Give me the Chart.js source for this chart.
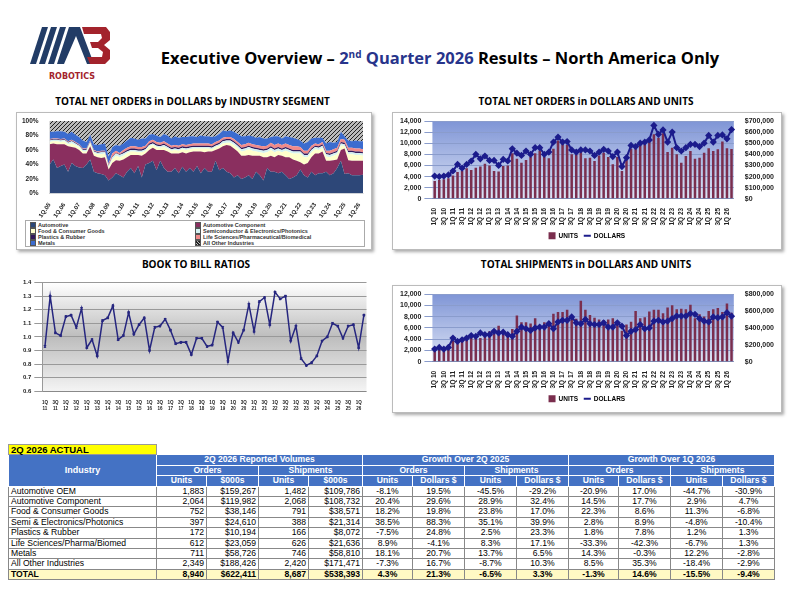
<!DOCTYPE html>
<html>
<head>
<meta charset="utf-8">
<script src="https://cdn.jsdelivr.net/npm/chart.js@4.4.1/dist/chart.umd.min.js"></script>
<style>
  body { margin: 0; width: 792px; height: 612px; position: relative; background: #fff; font-family: 'Liberation Sans', Arial, sans-serif; overflow: hidden; }
  .abs { position: absolute; }
  .title { font-family: 'Open Sans', 'DejaVu Sans', sans-serif; font-weight: bold; font-size: 10px; text-align: center; color: #000; }
  .box { border: 1px solid #bbb; box-shadow: 2px 2px 3px #aaa; background: #fff; }
  #legArea { font-size: 5.5px; line-height: 6px; font-weight: bold; color: #333; display: grid; grid-template-columns: 1fr 1fr; }
  #legArea span i { display: inline-block; width: 4px; height: 4px; border: 1px solid #555; margin-right: 2px; vertical-align: -1px; }
  table { border-collapse: collapse; font-size: 8.6px; }
  td { border: 1px solid #888; padding: 0 2px; height: 9.4px; line-height: 9.4px; white-space: nowrap; }
  td.n { text-align: right; }
  td.p { text-align: center; }
  .h td { background: #4472c4; color: #fff; font-weight: bold; text-align: center; border-color: #fff; }
  .tot td { background: #fff9c4; font-weight: bold; }
</style>
</head>
<body>
<svg class="abs" style="left:30px;top:22px" width="84" height="62" viewBox="0 0 84 62">
  <polygon points="12,5 18,5 6,42 0,42" fill="#223c66"/>
  <polygon points="21,5 27,5 15,42 9,42" fill="#223c66"/>
  <polygon points="30,5 36,5 24,42 18,42" fill="#223c66"/>
  <polygon points="39,5 50,5 64,42 57,42 46,14 34,42 27,42" fill="#223c66"/>
  <path d="M52,5 H76 L80,10 L80,18 L74,23 L80,28 L80,37 L75,42 H60 L57,35 H72 L73,30 L68,26 H62 L60,20 H68 L72,16 L71,12 H54 Z" fill="#a3232c"/>
  <text x="42" y="57" text-anchor="middle" font-family="DejaVu Sans" font-weight="bold" font-size="8" fill="#a3232c">ROBOTICS</text>
</svg>
<div class="abs" style="left:150px;top:46px;width:580px;text-align:center;font-family:'Open Sans',sans-serif;font-weight:bold;font-size:16.5px;">
  Executive Overview – <span style="color:#27348b">2<sup style="font-size:10px">nd</sup> Quarter 2026</span> Results – North America Only
</div>

<div class="abs title" style="left:15px;top:94px;width:355px">TOTAL NET ORDERS in DOLLARS by INDUSTRY SEGMENT</div>
<div class="abs title" style="left:392px;top:94px;width:388px">TOTAL NET ORDERS in DOLLARS AND UNITS</div>
<div class="abs title" style="left:20px;top:257px;width:352px">BOOK TO BILL RATIOS</div>
<div class="abs title" style="left:392px;top:257px;width:388px">TOTAL SHIPMENTS in DOLLARS AND UNITS</div>

<div class="abs box" style="left:16px;top:112px;width:354px;height:136px">
  <canvas id="cArea" width="354" height="106"></canvas>
  <div id="legArea" class="abs" style="left:8px;top:107px;width:340px;height:27px;border:1px solid #aaa;padding:1px 4px;box-sizing:border-box"></div>
</div>
<div class="abs box" style="left:392px;top:112px;width:388px;height:136px"><canvas id="cOrders" width="388" height="136"></canvas></div>
<div class="abs" style="left:20px;top:276px;width:352px;height:136px"><canvas id="cBtb" width="352" height="136"></canvas></div>
<div class="abs box" style="left:392px;top:285px;width:388px;height:126px"><canvas id="cShip" width="388" height="126"></canvas></div>

<div class="abs" style="left:8px;top:444px;">
<table id="tbl"></table>
</div>

<script>
'use strict';

// ─── Data ────────────────────────────────────────────────────────────────────

const QTRS_10 = [];
for (let y = 10; y <= 26; y++) for (let q = 1; q <= 4; q++) if (!(y === 26 && q > 2)) QTRS_10.push(q + 'Q ' + y);

const ORDER_UNITS = [3200,3400,3500,3700, 4200,4800,5000,5500, 5200,5600,5800,6300, 6000,5000,4900,5900,
  6000,8200,7200,6500, 7000,7500,8200,8700, 7500,7300,9000,10500, 10500,9700,8000,8000,
  8500,7300,7400,6800, 7800,8300,7500,6200, 7500,5000,7000,9000, 9500,9800,10000,10500,
  11600,11000,11800,8400, 9200,8000,6500,7700, 8600,7200,7400,8300, 9100,8600,8900,10300, 9100,8940];
const ORDER_DOLLARS = [205000,200000,205000,215000, 250000,310000,275000,310000, 340000,400000,360000,385000, 345000,345000,300000,355000,
  340000,450000,410000,390000, 430000,400000,460000,460000, 400000,420000,510000,555000, 510000,515000,440000,420000,
  440000,440000,430000,390000, 420000,445000,430000,380000, 420000,290000,370000,480000, 470000,500000,510000,530000,
  660000,580000,620000,510000, 600000,460000,430000,460000, 490000,490000,470000,500000, 570000,510000,570000,575000, 540000,622411];

const SHIP_UNITS = [2200,2500,2400,2500, 3700,3300,3800,4200, 4600,4500,4200,4700, 5400,5000,6400,5000,
  4500,5800,8200,7000, 7000,6800,7700,6500, 7000,6500,8500,8800, 8800,9200,8000,7600,
  10800,9200,8300,7800, 7500,7400,7500,7700, 7100,5500,6600,7100, 9000,7700,7900,8900,
  9200,9200,8600,9600, 10000,9300,9400,9300, 10100,7700,8400,8000, 9000,9300,9500,8800, 10300,8687];
const SHIP_DOLLARS = [150000,170000,150000,170000, 280000,240000,260000,280000, 310000,300000,340000,320000, 320000,360000,340000,350000,
  320000,300000,360000,410000, 390000,370000,400000,410000, 410000,450000,390000,470000, 490000,490000,530000,460000,
  450000,500000,450000,440000, 440000,460000,410000,410000, 460000,420000,310000,360000, 380000,440000,390000,400000,
  480000,490000,470000,480000, 510000,540000,540000,540000, 570000,560000,510000,480000, 470000,530000,520000,530000, 580000,538393];

const BTB_LABELS = QTRS_10.slice(4);
const BTB = [0.93,1.30,1.03,1.01, 1.15,1.16,1.07,1.21, 0.92,0.98,0.86,1.12, 1.14,1.23,0.98,1.01,
  1.18,1.02,1.09,1.14, 0.90,1.07,1.08,1.13, 1.05,0.95,0.96,0.96, 0.87,0.99,0.99,0.93,
  0.94,1.11,1.07,0.82, 1.03,0.96,1.05,1.24, 1.04,1.26,1.29,1.09, 1.33,1.28,1.30,0.97,
  1.08,0.84,0.79,0.81, 0.86,0.97,1.00,1.10, 1.08,0.99,1.08,1.09, 0.92,1.16];

const QTRS_05 = [];
for (let y = 5; y <= 26; y++) for (let q = 1; q <= 4; q++) if (!(y === 26 && q > 2)) QTRS_05.push(q + 'Q ' + String(y).padStart(2, '0'));

const SEG_NAMES = ['Automotive', 'Automotive Component', 'Food & Consumer Goods', 'Semiconductor & Electronics/Photonics',
  'Plastics & Rubber', 'Life Sciences/Pharmaceutical/Biomedical', 'Metals', 'All Other Industries'];
const SEG_AUTO = [40,47,35,38, 40,30,42,38, 36,35,40,47, 30,28,27,25, 18,22,28,25, 22,30,35,28, 38,22,40,42,
  45,32,45,35, 30,30,35,28, 37,30,35,30, 38,28,35,30, 30,45,32,35, 30,28,22,25, 20,22,25,20,
  30,25,18,35, 30,30,28,30, 25,20,22,25, 33,25,22,30, 25,28,28,30, 25,28,35,45, 27,28,25,25, 25,26];
const SEG_COMP = [28,22,33,30, 28,35,22,25, 24,20,15,18, 22,22,22,25, 15,20,18,20, 25,20,18,25, 15,30,15,18,
  18,28,15,25, 28,25,20,27, 20,25,22,28, 20,30,22,28, 28,15,30,30, 37,38,40,33, 32,30,28,32,
  22,27,32,15, 22,20,25,22, 25,30,25,20, 10,15,20,20, 30,27,30,15, 20,18,12,15, 35,18,20,20, 20,19];
const SEG_FOOD = [3,3,4,3, 4,3,5,4, 4,3,3,4, 4,4,5,5, 3,5,6,5, 5,6,5,5, 4,5,4,5, 4,4,3,4, 4,4,5,4,
  4,5,4,4, 4,4,5,4, 3,4,4,4, 3,4,5,5, 6,7,8,7, 6,5,6,7, 8,7,6,5, 9,7,8,10, 12,10,8,7,
  6,5,5,6, 5,6,7,6, 4,8,9,8, 8,7];
const SEG_SEMI = [2,2,2,2, 2,2,3,2, 2,2,2,2, 2,2,3,2, 2,3,3,3, 3,2,2,2, 2,2,2,2, 2,2,2,3, 2,2,2,2,
  2,2,2,2, 2,2,2,2, 2,2,2,3, 3,3,3,3, 3,3,3,3, 3,3,3,3, 3,3,3,3, 3,3,3,3, 3,3,3,3,
  3,3,3,3, 3,3,3,3, 2,3,3,3, 3,3];
const SEG_PLAS = [1,1,1,1, 1,1,1,1, 1,1,1,1, 1,1,1,1, 1,1,1,1, 2,2,2,2, 2,2,2,2, 2,2,2,2, 2,2,2,2,
  2,2,2,2, 2,2,2,2, 2,2,2,2, 2,2,2,2, 2,2,2,2, 2,2,2,2, 2,2,2,2, 2,2,2,2, 2,2,2,2,
  2,2,2,2, 2,2,2,2, 2,2,2,2, 2,2];
const SEG_LIFE = [1,1,1,1, 1,1,1,1, 1,1,1,1, 1,1,1,1, 2,4,3,2, 3,3,3,3, 3,3,3,3, 3,3,3,3, 3,3,3,3,
  3,3,3,3, 3,3,3,3, 3,3,3,3, 3,3,3,3, 4,4,4,4, 4,4,4,4, 5,5,5,5, 5,5,5,5, 4,4,4,4,
  3,3,3,3, 4,4,4,4, 4,4,4,4, 4,4];
const SEG_METAL = [10,9,10,11, 9,10,11,10, 10,11,9,8, 8,9,9,10, 10,9,8,10, 9,10,12,11, 10,12,10,9,
  8,9,8,10, 11,10,12,11, 10,11,11,10, 9,11,10,10, 10,8,9,10, 8,9,10,11, 12,11,10,11,
  10,12,11,10, 8,12,10,9, 10,11,12,10, 9,10,12,10, 8,9,6,10, 12,9,8,10, 5,10,9,11, 10,11];
const SEG_OTHER = SEG_AUTO.map((_, i) => 100 - SEG_AUTO[i] - SEG_COMP[i] - SEG_FOOD[i] - SEG_SEMI[i]
  - SEG_PLAS[i] - SEG_LIFE[i] - SEG_METAL[i]);

const TBL_INDUSTRIES = ['Automotive OEM', 'Automotive Component', 'Food & Consumer Goods', 'Semi & Electronics/Photonics',
  'Plastics & Rubber', 'Life Sciences/Pharma/Biomed', 'Metals', 'All Other Industries', 'TOTAL'];
const TBL_VOLUMES = [
  ['1,883','$159,267','1,482','$109,786'], ['2,064','$119,982','2,068','$108,732'], ['752','$38,146','791','$38,571'],
  ['397','$24,610','388','$21,314'], ['172','$10,194','166','$8,072'], ['612','$23,059','626','$21,636'],
  ['711','$58,726','746','$58,810'], ['2,349','$188,426','2,420','$171,471'], ['8,940','$622,411','8,687','$538,393']];
const TBL_YOY = [
  ['-8.1%','19.5%','-45.5%','-29.2%'], ['20.4%','29.6%','28.9%','32.4%'], ['18.2%','19.8%','23.8%','17.0%'],
  ['38.5%','88.3%','35.1%','39.9%'], ['-7.5%','24.8%','2.5%','23.3%'], ['8.9%','-4.1%','8.3%','17.1%'],
  ['18.1%','20.7%','13.7%','6.5%'], ['-7.3%','16.7%','-8.7%','10.3%'], ['4.3%','21.3%','-6.5%','3.3%']];
const TBL_QOQ = [
  ['-20.9%','17.0%','-44.7%','-30.9%'], ['14.5%','17.7%','2.9%','4.7%'], ['22.3%','8.6%','11.3%','-6.8%'],
  ['2.8%','8.9%','-4.8%','-10.4%'], ['1.8%','7.8%','1.2%','1.3%'], ['-33.3%','-42.3%','-6.7%','1.3%'],
  ['14.3%','-0.3%','12.2%','-2.8%'], ['8.5%','35.3%','-18.4%','-2.9%'], ['-1.3%','14.6%','-15.5%','-9.4%']];

// ─── Shared helpers ──────────────────────────────────────────────────────────

Chart.defaults.font.family = "'Liberation Sans', Arial, sans-serif";
Chart.defaults.color = '#222';

const MAROON = '#7a2e4e';
const NAVY   = '#1c1c8c';

// paints a vertical gradient behind the plot area
function bgPlugin(top, bottom, mid) {
  return {
    id: 'bg',
    beforeDraw(chart) {
      const { ctx, chartArea: a } = chart;
      const g = ctx.createLinearGradient(0, a.top, 0, a.bottom);
      g.addColorStop(0, top);
      if (mid) g.addColorStop(0.5, mid);
      g.addColorStop(1, bottom);
      ctx.save();
      ctx.fillStyle = g;
      ctx.fillRect(a.left, a.top, a.right - a.left, a.bottom - a.top);
      ctx.restore();
    },
  };
}

function hatch() {
  const c = document.createElement('canvas');
  c.width = 4; c.height = 4;
  const x = c.getContext('2d');
  x.fillStyle = '#bbb'; x.fillRect(0, 0, 4, 4);
  x.strokeStyle = '#222'; x.lineWidth = 1;
  x.beginPath(); x.moveTo(0, 4); x.lineTo(4, 0); x.stroke();
  return x.createPattern(c, 'repeat');
}

const qtrTicks = {
  autoSkip: false, maxRotation: 90, minRotation: 90,
  font: { size: 6.5, weight: 'bold' }, padding: 1,
};

function comboChart(id, units, dollars, yMax, yStep, y2Max, y2Step) {
  return new Chart(document.getElementById(id), {
    data: {
      labels: QTRS_10,
      datasets: [
        { type: 'line', label: 'DOLLARS', data: dollars, yAxisID: 'y2', borderColor: NAVY, backgroundColor: NAVY,
          borderWidth: 2, pointStyle: 'rectRot', pointRadius: 2.2, tension: 0, order: 0 },
        { type: 'bar', label: 'UNITS', data: units, yAxisID: 'y', backgroundColor: MAROON,
          barPercentage: 0.55, categoryPercentage: 1, order: 1 },
      ],
    },
    options: {
      responsive: false, animation: false,
      layout: { padding: { left: 4, right: 4, top: 8, bottom: 0 } },
      plugins: {
        legend: {
          position: 'bottom', reverse: true,
          labels: { usePointStyle: true, font: { size: 6.5, weight: 'bold' }, boxHeight: 5, padding: 6,
            generateLabels: ch => ch.data.datasets.map((d, i) => ({
              text: d.label, datasetIndex: i, fillStyle: i ? MAROON : NAVY, strokeStyle: i ? MAROON : NAVY,
              pointStyle: i ? 'rect' : 'line', lineWidth: 2 })) },
        },
        tooltip: { enabled: false },
      },
      scales: {
        x: { grid: { display: false }, ticks: { ...qtrTicks, callback(v, i) { return i % 2 ? '' : QTRS_10[i]; } } },
        y: { min: 0, max: yMax, ticks: { autoSkip: false, stepSize: yStep, font: { size: 7, weight: 'bold' },
             callback: v => v.toLocaleString('en-US') }, grid: { color: '#8a9ccc' }, border: { display: false } },
        y2: { position: 'right', min: 0, max: y2Max, ticks: { autoSkip: false, stepSize: y2Step, font: { size: 7, weight: 'bold' },
             callback: v => '$' + v.toLocaleString('en-US') }, grid: { display: false }, border: { display: false } },
      },
    },
    plugins: [bgPlugin('#7f95d6', '#dde4f5')],
  });
}

// ─── Charts ──────────────────────────────────────────────────────────────────

const SEG_DATA   = [SEG_AUTO, SEG_COMP, SEG_FOOD, SEG_SEMI, SEG_PLAS, SEG_LIFE, SEG_METAL, SEG_OTHER];
const SEG_COLORS = ['#2d4778', '#8a2f5f', '#ffffcc', '#d4f2f2', '#33195a', '#f08a8a', '#3c6ccf', hatch()];

new Chart(document.getElementById('cArea'), {
  type: 'line',
  data: {
    labels: QTRS_05,
    datasets: SEG_DATA.map((d, i) => ({
      label: SEG_NAMES[i], data: d, fill: i ? '-1' : 'origin', backgroundColor: SEG_COLORS[i],
      borderWidth: 0, pointRadius: 0, tension: 0,
    })),
  },
  options: {
    responsive: false, animation: false,
    layout: { padding: { left: 2, right: 8, top: 8 } },
    plugins: { legend: { display: false }, tooltip: { enabled: false } },
    scales: {
      x: { grid: { display: false }, ticks: { autoSkip: false, maxRotation: 55, minRotation: 55, font: { size: 6, weight: 'bold' },
           padding: 0, callback(v, i) { return i % 4 ? '' : QTRS_05[i].replace(' ', '.'); } } },
      y: { stacked: true, min: 0, max: 100, ticks: { autoSkip: false, stepSize: 20, font: { size: 6.5, weight: 'bold' }, callback: v => v + '%' },
           grid: { display: false } },
    },
  },
});

document.getElementById('legArea').innerHTML = SEG_NAMES.map((n, i) =>
  `<span><i style="background:${i === 7 ? 'repeating-linear-gradient(45deg,#222 0 1px,#bbb 1px 2px)' : SEG_COLORS[i]}"></i>${n}</span>`).join('');

comboChart('cOrders', ORDER_UNITS, ORDER_DOLLARS, 14000, 2000, 700000, 100000);
comboChart('cShip', SHIP_UNITS, SHIP_DOLLARS, 12000, 2000, 800000, 200000);

new Chart(document.getElementById('cBtb'), {
  type: 'line',
  data: {
    labels: BTB_LABELS.map(l => l.split(' ')),
    datasets: [{ data: BTB, borderColor: '#26267f', backgroundColor: '#26267f', borderWidth: 1.5,
      pointStyle: 'crossRot', pointRadius: 1.5, tension: 0 }],
  },
  options: {
    responsive: false, animation: false,
    layout: { padding: { right: 4 } },
    plugins: { legend: { display: false }, tooltip: { enabled: false } },
    scales: {
      x: { grid: { display: false }, offset: true, ticks: { autoSkip: false, maxRotation: 0, font: { size: 4.5, weight: 'bold' },
           padding: 1, callback(v, i) { return i % 2 ? '' : BTB_LABELS[i].split(' '); } } },
      y: { min: 0.6, max: 1.4, ticks: { autoSkip: false, stepSize: 0.1, font: { size: 6, weight: 'bold' }, callback: v => v.toFixed(1) },
           grid: { color: '#999' }, border: { color: '#999' } },
    },
  },
  plugins: [bgPlugin('#ffffff', '#f4f4f4', '#bdbdbd')],
});

// ─── Table ───────────────────────────────────────────────────────────────────

const W = [148, 50, 52, 50, 54, 50, 52, 52, 52, 50, 52, 52, 52];
let html = `<colgroup>${W.map(w => `<col style="width:${w}px">`).join('')}</colgroup>`;
html += `<tr><td style="background:#ffff00;font-weight:bold;font-size:9.5px;border-color:#999">2Q 2026 ACTUAL</td><td colspan="12" style="border:none"></td></tr>`;
html += `<tr class="h"><td rowspan="3" style="font-size:9px">Industry</td><td colspan="4">2Q 2026 Reported Volumes</td><td colspan="4">Growth Over 2Q 2025</td><td colspan="4">Growth Over 1Q 2026</td></tr>`;
html += `<tr class="h">${'<td colspan="2">Orders</td><td colspan="2">Shipments</td>'.repeat(3)}</tr>`;
html += `<tr class="h"><td>Units</td><td>$000s</td><td>Units</td><td>$000s</td>${'<td>Units</td><td>Dollars $</td>'.repeat(4)}</tr>`;
TBL_INDUSTRIES.forEach((name, r) => {
  html += `<tr${r === 8 ? ' class="tot"' : ''}><td>${name}</td>` +
    TBL_VOLUMES[r].map(v => `<td class="n">${v}</td>`).join('') +
    TBL_YOY[r].map(v => `<td class="p">${v}</td>`).join('') +
    TBL_QOQ[r].map(v => `<td class="p">${v}</td>`).join('') + '</tr>';
});
document.getElementById('tbl').innerHTML = html;
</script>
</body>
</html>
